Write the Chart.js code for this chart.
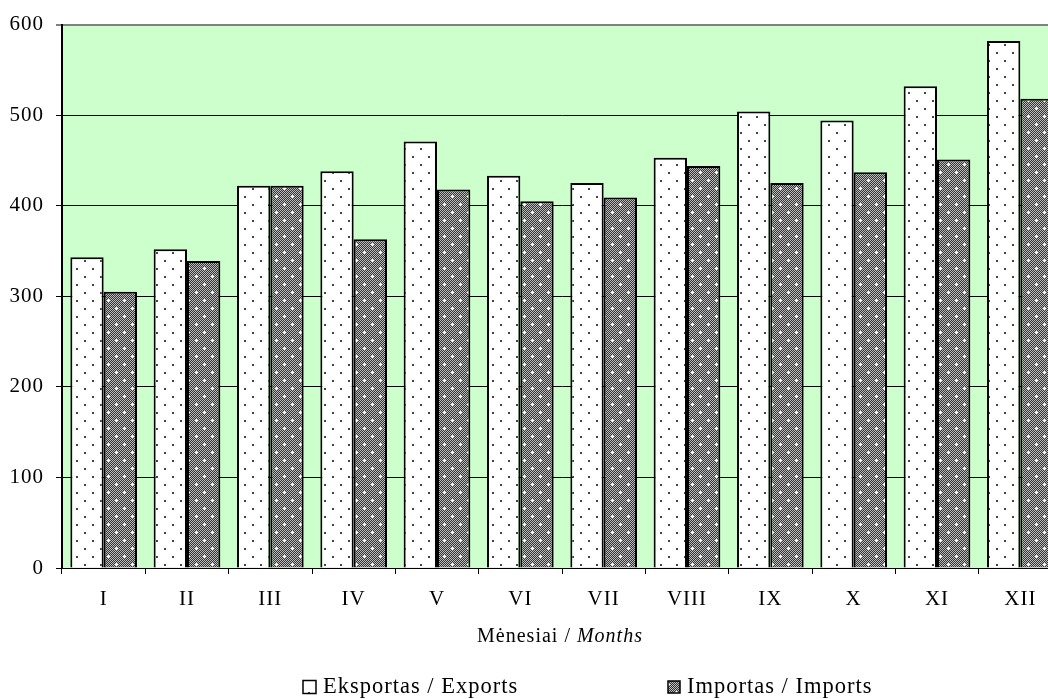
<!DOCTYPE html>
<html>
<head>
<meta charset="utf-8">
<script src="https://cdn.jsdelivr.net/npm/chart.js@4.4.1/dist/chart.umd.min.js"></script>
<style>
  html, body { margin: 0; padding: 0; background: #fff; overflow: hidden; }
  #wrap { width: 1062px; height: 699px; }
</style>
</head>
<body>
<div id="wrap"><canvas id="chart" width="1062" height="699"></canvas></div>
<script>
// months (roman numerals) and the two series
var months = ['I', 'II', 'III', 'IV', 'V', 'VI', 'VII', 'VIII', 'IX', 'X', 'XI', 'XII'];
var exportsData = [343, 352, 422, 438, 471, 433, 425, 453, 504, 494, 532, 582];
var importsData = [305, 339, 422, 363, 418, 405, 409, 444, 425, 437, 451, 518];
var seriesLabels = ['Eksportas / Exports', 'Importas / Imports'];
var yTicks = [0, 100, 200, 300, 400, 500, 600];

var FONT = '"Liberation Serif", "Times New Roman", serif';

// white with small staggered dots
function dotPattern()
{
  var c = document.createElement('canvas');
  c.width = 16; c.height = 16;
  var g = c.getContext('2d');
  g.fillStyle = '#fff';
  g.fillRect(0, 0, 16, 16);
  g.fillStyle = '#444';
  g.fillRect(4, 4, 2, 2);
  g.fillRect(12, 12, 2, 2);
  return g.createPattern(c, 'repeat');
}

// fine dark checker with white crosses
function crossPattern()
{
  var c = document.createElement('canvas');
  c.width = 16; c.height = 16;
  var g = c.getContext('2d');
  for (var y = 0; y < 16; y++) {
    for (var x = 0; x < 16; x++) {
      g.fillStyle = ((x + y) % 2) ? '#333' : '#bcbcbc';
      g.fillRect(x, y, 1, 1);
    }
  }
  g.fillStyle = '#fff';
  [[4, 4], [12, 12]].forEach(function(p)
  {
    g.fillRect(p[0] - 1, p[1], 3, 1);
    g.fillRect(p[0], p[1] - 1, 1, 3);
  });
  return g.createPattern(c, 'repeat');
}

var plotBackground = {
  id: 'plotBackground',
  beforeDraw: function(chart)
  {
    var a = chart.chartArea, ctx = chart.ctx;
    // the original text is slightly letter-spaced everywhere
    ctx.letterSpacing = '1px';
    ctx.save();
    ctx.fillStyle = '#ccffcc';
    ctx.fillRect(a.left, a.top, a.right - a.left, a.bottom - a.top);
    ctx.restore();
  }
};

// axis title with italic part, plus legend placed like the original
var extraText = {
  id: 'extraText',
  afterDraw: function(chart)
  {
    var ctx = chart.ctx;
    ctx.save();
    ctx.fillStyle = '#000';
    ctx.textBaseline = 'middle';
    ctx.letterSpacing = '1px';
    var part1 = 'Mėnesiai / ', part2 = 'Months';
    ctx.font = '20px ' + FONT;
    var w1 = ctx.measureText(part1).width;
    ctx.font = 'italic 20px ' + FONT;
    var w2 = ctx.measureText(part2).width;
    var x = 560 - (w1 + w2) / 2;
    ctx.font = '20px ' + FONT;
    ctx.fillText(part1, x, 637);
    ctx.font = 'italic 20px ' + FONT;
    ctx.fillText(part2, x + w1, 637);

    var items = [{x: 303, size: 13}, {x: 668, size: 12}];
    ctx.font = '22.5px ' + FONT;
    chart.data.datasets.forEach(function(ds, i)
    {
      var it = items[i];
      var by = 687 - it.size / 2;
      ctx.fillStyle = ds.backgroundColor;
      ctx.fillRect(it.x, by, it.size, it.size);
      ctx.strokeStyle = '#000';
      ctx.lineWidth = 1.5;
      ctx.strokeRect(it.x, by, it.size, it.size);
      ctx.fillStyle = '#000';
      ctx.fillText(ds.label, it.x + it.size + 7, 687);
    });
    ctx.restore();
  }
};

new Chart(document.getElementById('chart'), {
  type: 'bar',
  data: {
    labels: months,
    datasets: [
      {
        label: seriesLabels[0],
        data: exportsData,
        backgroundColor: dotPattern(),
        borderColor: '#000',
        borderWidth: 2,
        borderSkipped: 'bottom'
      },
      {
        label: seriesLabels[1],
        data: importsData,
        backgroundColor: crossPattern(),
        borderColor: '#000',
        borderWidth: 2,
        borderSkipped: 'bottom'
      }
    ]
  },
  options: {
    responsive: false,
    animation: false,
    devicePixelRatio: 1,
    layout: { padding: { top: 24, right: 0, bottom: 0, left: 0 } },
    datasets: { bar: { categoryPercentage: 0.8, barPercentage: 1.0 } },
    plugins: {
      legend: { display: false },
      tooltip: { enabled: false }
    },
    scales: {
      x: {
        offset: true,
        grid: { display: true, drawOnChartArea: false, color: '#000', tickLength: 6 },
        border: { display: true, color: '#000', width: 1 },
        ticks: { color: '#000', font: { family: FONT, size: 21 }, padding: 13 },
        afterFit: function(scale) { scale.height = 131; }
      },
      y: {
        min: 0,
        max: 600,
        afterBuildTicks: function(scale)
        {
          scale.ticks = yTicks.map(function(v) { return {value: v}; });
        },
        grid: {
          color: function(c) { return c.tick && c.tick.value === 600 ? '#808080' : '#000'; },
          lineWidth: function(c) { return c.tick && c.tick.value === 600 ? 2 : 1; },
          tickLength: 6
        },
        border: { display: true, color: '#000', width: 2 },
        ticks: { color: '#000', font: { family: FONT, size: 21 }, padding: 12 },
        afterFit: function(scale) { scale.width = 62; }
      }
    }
  },
  plugins: [plotBackground, extraText]
});
</script>
</body>
</html>
